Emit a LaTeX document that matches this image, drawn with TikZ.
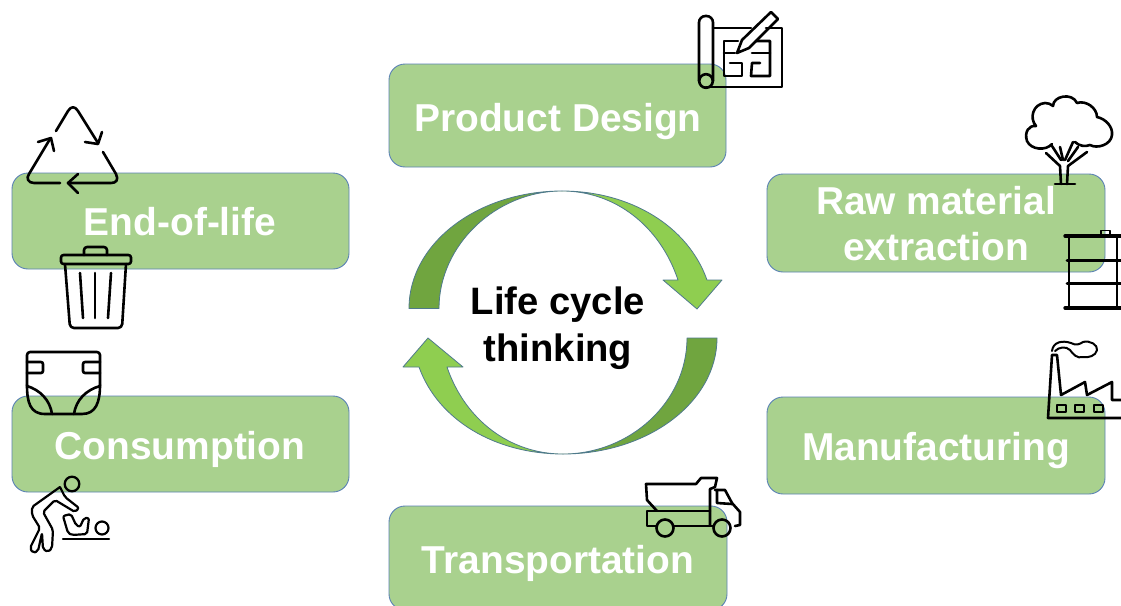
\documentclass[tikz,border=0pt]{standalone}
\usepackage{fontspec}
\setmainfont{Liberation Sans}
\definecolor{boxgreen}{HTML}{A9D18E}
\definecolor{boxedge}{HTML}{5B82B5}
\definecolor{dkarrow}{HTML}{70A53F}
\definecolor{ltarrow}{HTML}{8FCE50}
\definecolor{arrowedge}{HTML}{4F7A8C}
\tikzset{
  stagebox/.style={draw=boxedge,fill=boxgreen,line width=0.9pt,rounded corners=16pt,inner sep=0pt},
  stagetext/.style={text=white,font=\fontsize{38.9}{46}\selectfont\bfseries,align=center,anchor=base,inner sep=0pt},
  hubtext/.style={text=black,font=\fontsize{38.2}{47}\selectfont\bfseries,align=center,anchor=base,inner sep=0pt},
  dkflow/.style={draw=arrowedge,fill=dkarrow,line width=0.8pt,line join=round},
  ltflow/.style={draw=arrowedge,fill=ltarrow,line width=0.8pt,line join=round},
  glyph/.style={draw=black,line width=2.6pt,line cap=round,line join=round},
}
\begin{document}
\begin{tikzpicture}[x=1pt,y=-1pt]
\useasboundingbox (0,0) rectangle (1121,605);
\clip (0,0) rectangle (1121,605);
\fill[white] (0,0) rectangle (1121,605);
% stage boxes
\node[stagebox,minimum width=337pt,minimum height=103pt] (design) at (557.5,115.5) {};
\node[stagebox,minimum width=338pt,minimum height=98pt] (raw) at (936,223) {};
\node[stagebox,minimum width=337pt,minimum height=96pt] (eol) at (180.5,221) {};
\node[stagebox,minimum width=337pt,minimum height=96pt] (cons) at (180.5,444) {};
\node[stagebox,minimum width=338pt,minimum height=97pt] (manu) at (936,445.5) {};
\node[stagebox,minimum width=338pt,minimum height=104pt] (trans) at (558,558) {};
% labels
\node[stagetext] (designL) at (558,131) {Product Design};
\node[stagetext] (rawL) at (936,260) {Raw material\\extraction};
\node[stagetext] (eolL) at (180,235) {End-of-life};
\node[stagetext] (consL) at (180,459) {Consumption};
\node[stagetext] (manuL) at (936,460) {Manufacturing};
\node[stagetext] (transL) at (558,573) {Transportation};
\node[hubtext] (hub) at (558,361.5) {Life cycle\\thinking};
% cycle arrows
\path[dkflow] (409,308.5) .. controls (409,243) and (478,191) .. (562,191)
  .. controls (496,191) and (439,245) .. (439,308.5) -- cycle;
\path[ltflow] (562,191) .. controls (630,191) and (688,226) .. (707,280)
  -- (722,280) -- (697,309) -- (663,280) -- (678,280)
  .. controls (660,226) and (615,191) .. (562,191) -- cycle;
\path[dkflow] (717,338) .. controls (717,402) and (648,454) .. (563,454)
  .. controls (630,454) and (687,402) .. (687,338) -- cycle;
\path[ltflow] (563,454) .. controls (495,454) and (438,420) .. (419,367)
  -- (403,367) -- (428,338) -- (463,367) -- (447,367)
  .. controls (465,420) and (510,454) .. (563,454) -- cycle;
% blueprint icon
\draw[glyph,rounded corners=6.5pt] (699,81) -- (699,16) -- (713,16) -- (713,81);
\draw[glyph] (706,81) circle (6.8pt);
\draw[glyph] (713,28) -- (751,28);
\draw[glyph] (766,28) -- (782,28) -- (782,87) -- (706,87);
\draw[glyph] (737,53) -- (742,40) -- (771,12) -- (778,19) -- (749,48) -- cycle;
\draw[glyph] (738,41) -- (724,41) -- (724,76) -- (742,76) -- (742,63) -- (730,63);
\draw[glyph] (724,53) -- (735,53);
\draw[glyph] (756,41) -- (770,41) -- (770,76) -- (751,76) -- (752,63) -- (760,63);
\draw[glyph] (752,53) -- (770,53);
% tree icon
\draw[glyph] (1052,144) .. controls (1046,151) and (1031,150) .. (1027,141)
  .. controls (1024,132) and (1029,125) .. (1036,126)
  .. controls (1029,118) and (1033,104) .. (1045,103)
  .. controls (1048,103) and (1051,104) .. (1053,106)
  .. controls (1053,96) and (1072,92) .. (1077,103)
  .. controls (1086,100) and (1097,108) .. (1097,117)
  .. controls (1106,119) and (1113,127) .. (1112,135)
  .. controls (1111,145) and (1097,149) .. (1090,145)
  .. controls (1085,147) and (1079,146) .. (1075,142);
\draw[glyph] (1055,184) -- (1075,184);
\draw[glyph] (1061,184) -- (1060,166) -- (1046,153);
\draw[glyph] (1067,184) -- (1068,166) -- (1087,152);
\draw[glyph] (1052,146) -- (1061,160);
\draw[glyph] (1060,147) -- (1063,160);
\draw[glyph] (1073,142) -- (1065,160);
\draw[glyph] (1078,147) -- (1068,161);
% barrel icon
\draw[glyph,line width=3.4pt] (1065,236) -- (1125,236);
\draw[glyph,line width=3.4pt] (1065,308) -- (1125,308);
\draw[glyph] (1069,236) -- (1069,308);
\draw[glyph] (1117,236) -- (1117,308);
\draw[glyph,line width=3pt] (1067,260) -- (1125,260);
\draw[glyph,line width=3pt] (1067,283) -- (1125,283);
\draw[glyph,line width=1.8pt] (1101,235) -- (1101,230.5) -- (1110,230.5) -- (1110,235);
% factory icon
\draw[glyph] (1125,418) -- (1048,418) -- (1052,355) -- (1057,355) -- (1061,395)
  -- (1085,382) -- (1087,395) -- (1112,382) -- (1112,400) -- (1125,400);
\draw[glyph,line width=2.2pt] (1057,405) rectangle (1066,412);
\draw[glyph,line width=2.2pt] (1075,405) rectangle (1084,412);
\draw[glyph,line width=2.2pt] (1094,405) rectangle (1103,412);
\draw[glyph,line width=2pt] (1052,351) .. controls (1053,342) and (1062,340) .. (1071,343)
  .. controls (1076,346) and (1080,344) .. (1083,342)
  .. controls (1090,340) and (1098,345) .. (1097,350)
  .. controls (1096,356) and (1088,358) .. (1083,357)
  .. controls (1077,359) and (1073,354) .. (1070,350)
  .. controls (1066,346) and (1059,347) .. (1055,351);
% recycle icon
\draw[glyph] (56,131) -- (68,111) .. controls (71,106) and (75,106) .. (78,111) -- (98,143);
\draw[glyph] (85,142) -- (98,144) -- (102,132);
\draw[glyph] (103,152) -- (116,174) .. controls (119,180) and (116,183) .. (111,183) -- (68,183);
\draw[glyph] (78,174) -- (68,183) -- (78,193);
\draw[glyph] (60,183) -- (34,183) .. controls (28,183) and (26,178) .. (29,174) -- (50,139);
\draw[glyph] (38,142) -- (51,138) -- (54,151);
% trash icon
\draw[glyph,rounded corners=2.5pt] (61,255) rectangle (131,264);
\draw[glyph,rounded corners=3pt] (84,255) -- (84,247) -- (107,247) -- (107,255);
\draw[glyph,rounded corners=4pt] (65,264) -- (70,328) -- (122,328) -- (126,264);
\draw[glyph] (80,273) -- (83,318);
\draw[glyph] (95,273) -- (95,318);
\draw[glyph] (111,273) -- (108,318);
% diaper icon
\draw[glyph,rounded corners=3pt] (27,385) -- (27,352) -- (100,352) -- (100,385);
\draw[glyph] (27,385) .. controls (27,402) and (30,414) .. (45,414) -- (82,414)
  .. controls (96,414) and (100,402) .. (100,385);
\draw[glyph] (27,386) .. controls (40,390) and (50,400) .. (52,414);
\draw[glyph] (100,386) .. controls (86,390) and (76,400) .. (74,414);
\draw[glyph,rounded corners=2pt] (27,362) -- (43,362) -- (43,373) -- (27,373);
\draw[glyph,rounded corners=2pt] (100,362) -- (83,362) -- (83,373) -- (100,373);
% person and baby icon
\draw[glyph,line width=2.3pt] (72,484) circle (7.3pt);
\draw[glyph,line width=2.2pt,rounded corners=2pt] (60,487) -- (32,507) -- (32,515) -- (40,528) -- (30,548)
  -- (33,553) -- (38,551) -- (42,533) -- (43,549) -- (48,552) -- (52,548) -- (53,530) -- (43,512)
  -- (55,500) -- (75,512) -- (79,508) -- (65,497) -- (60,487);
\draw[glyph,line width=2.2pt,rounded corners=2pt] (63,516) -- (71,514) -- (76,525) -- (80,527) -- (84,518)
  -- (89,518) -- (87,534) -- (72,535) -- (68,533) -- cycle;
\draw[glyph,line width=2.2pt] (102,528) circle (6.5pt);
\draw[glyph,line width=2.2pt] (63,539) -- (109,539);
% truck icon
\draw[glyph] (657,511) -- (647,500) -- (646,484) -- (696,484) -- (701,478) -- (717,478) -- (715,487) -- (710,489) -- (710,525);
\draw[glyph] (657,526) -- (647,526) -- (647,511) -- (710,511);
\draw[glyph] (673,526) -- (713,526);
\draw[glyph] (665,528) circle (8.5pt);
\draw[glyph] (722,528) circle (8.5pt);
\draw[glyph] (715,490) -- (725,490) -- (732,503) -- (740,512) -- (740,525) -- (735,526);
\draw[glyph] (717,490) -- (717,503) -- (732,504);
\end{tikzpicture}
\end{document}
